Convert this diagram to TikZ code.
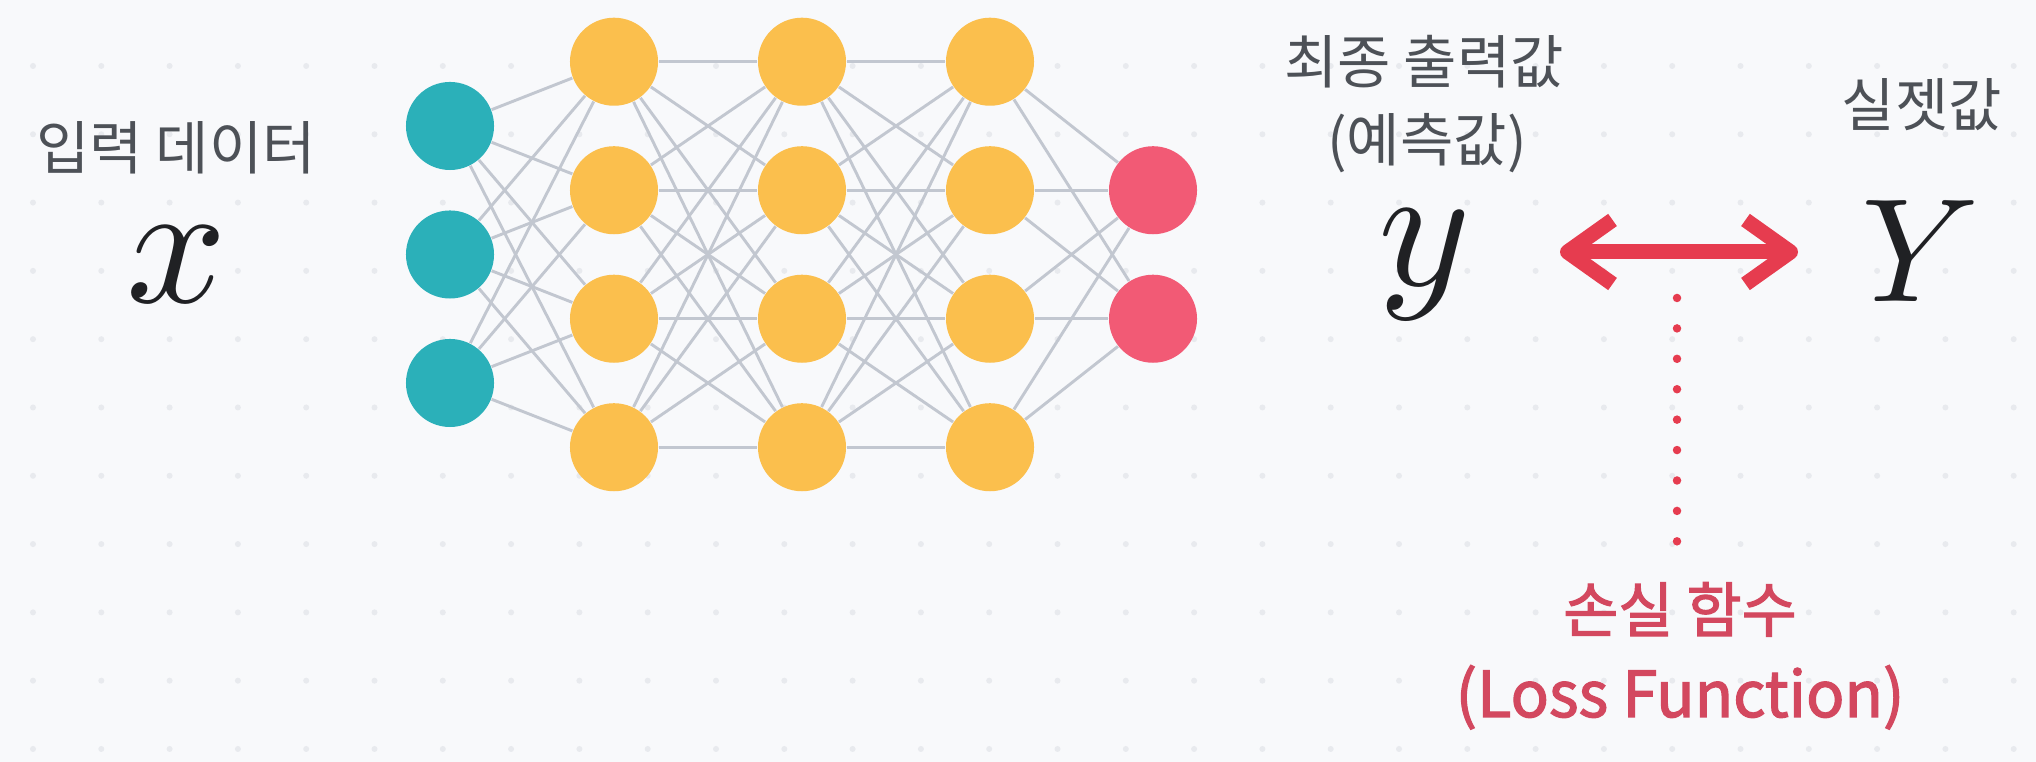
\documentclass[tikz,border=0pt]{standalone}
\usepackage{fontspec}
\setmainfont{Noto Sans CJK KR}
\newfontfamily\lossfont[FakeBold=2]{Noto Sans CJK KR}
\DeclareFontShape{OML}{cmm}{m}{it}{<->cmmi10}{}
\usetikzlibrary{arrows.meta}
\definecolor{paperbg}{HTML}{F8F9FB}
\definecolor{griddot}{HTML}{E8EAEE}
\definecolor{inteal}{HTML}{2BB0B9}
\definecolor{hidyellow}{HTML}{FBBF4D}
\definecolor{outpink}{HTML}{F25A75}
\definecolor{wiregray}{HTML}{C2C7D0}
\definecolor{labelgray}{HTML}{4D5157}
\definecolor{mathblack}{HTML}{202124}
\definecolor{lossred}{HTML}{E63C4F}
\definecolor{losstext}{HTML}{D3485F}
\tikzset{
inputneuron/.style={circle, draw=none,fill=inteal, inner sep=0pt, minimum size= 8.8mm},
hiddenneuron/.style={circle, draw=none,fill=hidyellow, inner sep=0pt, minimum size= 8.8mm},
outputneuron/.style={circle, draw=none,fill=outpink, inner sep=0pt, minimum size= 8.8mm},
synapse/.style={draw=wiregray, line width=0.29mm},
korlabel/.style={text=labelgray, inner sep=0pt, anchor=base, font=\fontsize{16.5}{20}\selectfont},
mathlabel/.style={text=mathblack, inner sep=0pt, anchor=base},
losslabel/.style={text=losstext, inner sep=0pt, anchor=base, font=\fontsize{17}{20}\selectfont\lossfont},
lossarrow/.style={draw=lossred, line width=1.5mm,
  {Straight Barb[length=4.5mm, width=6.4mm, line join=round, line cap=butt]}-{Straight Barb[length=4.5mm, width=6.4mm, line join=round, line cap=butt]}},
lossdots/.style={draw=lossred, line width=0.85mm, line cap=round, dash pattern=on 0pt off 3.04mm},
}
\begin{document}
\begin{tikzpicture}[x=0.01cm, y=0.01cm]
\fill[paperbg] (0,0) rectangle (2036,762);
\useasboundingbox (0,0) rectangle (2036,762);
\foreach \i in {0,...,29} {
  \foreach \j in {0,...,10} {
    \fill[griddot] (33+68.3*\i, 696-68.3*\j) circle (0.3mm);
  }
}
% network
\node[inputneuron] at (450,636) (in1) {};
\node[inputneuron] at (450,507.5) (in2) {};
\node[inputneuron] at (450,379) (in3) {};
\node[hiddenneuron] at (614,700.25) (ha1) {};
\node[hiddenneuron] at (614,571.75) (ha2) {};
\node[hiddenneuron] at (614,443.25) (ha3) {};
\node[hiddenneuron] at (614,314.75) (ha4) {};
\node[hiddenneuron] at (802,700.25) (hb1) {};
\node[hiddenneuron] at (802,571.75) (hb2) {};
\node[hiddenneuron] at (802,443.25) (hb3) {};
\node[hiddenneuron] at (802,314.75) (hb4) {};
\node[hiddenneuron] at (990,700.25) (hc1) {};
\node[hiddenneuron] at (990,571.75) (hc2) {};
\node[hiddenneuron] at (990,443.25) (hc3) {};
\node[hiddenneuron] at (990,314.75) (hc4) {};
\node[outputneuron] at (1153,571.75) (out1) {};
\node[outputneuron] at (1153,443.25) (out2) {};
\foreach \j in {1,...,4} {
  \foreach \i in {1,2,3} {\draw[synapse] (in\i) -- (ha\j);}
  \foreach \k in {1,...,4} {\draw[synapse] (ha\j) -- (hb\k); \draw[synapse] (hb\j) -- (hc\k);}
  \foreach \o in {1,2} {\draw[synapse] (hc\j) -- (out\o);}
}
% labels
\node[korlabel] at (176,592) (xtitle) {입력 데이터};
\node[mathlabel, font=\fontsize{50}{54}\selectfont] at (177,459) (xin) {$x$};
\node[korlabel] at (1424,678) (ytitle) {최종 출력값};
\node[korlabel] at (1427,600) (ysub) {(예측값)};
\node[mathlabel, font=\fontsize{50}{54}\selectfont] at (1425,476) (ypred) {$y$};
\node[korlabel] at (1922,635) (Ytitle) {실젯값};
\node[mathlabel, font=\fontsize{42}{46}\selectfont] at (1921,460) (Yreal) {$Y$};
% loss
\coordinate (lossL) at (1560,510);
\coordinate (lossR) at (1798,510);
\coordinate (dotTop) at (1677,464);
\coordinate (dotBot) at (1677,220);
\draw[lossarrow] (lossL) -- (lossR);
\draw[lossdots] (dotTop) -- (dotBot);
\node[losslabel] at (1680,130) (losskr) {손실 함수};
\node[losslabel, font=\fontsize{18}{20}\selectfont\lossfont] at (1680,45) (lossen) {(Loss Function)};
\end{tikzpicture}
\end{document}
